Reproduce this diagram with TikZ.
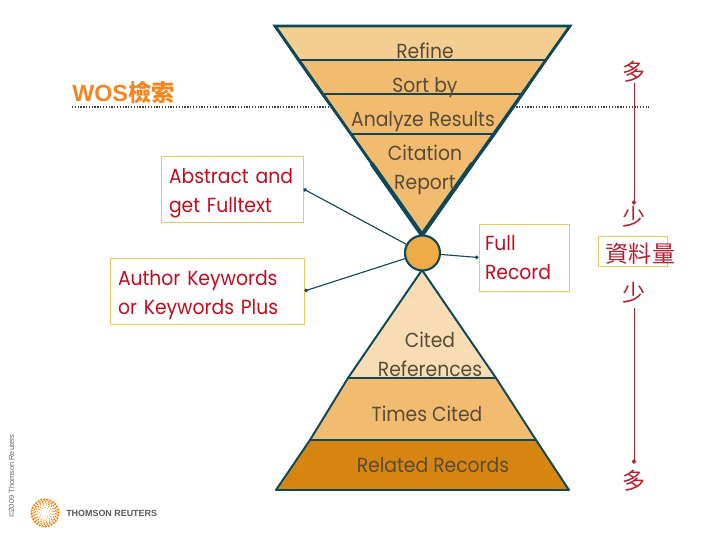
\documentclass[tikz,border=0pt]{standalone}
\usepackage{fontspec}
\setmainfont[FakeStretch=.92]{Poppins}
\setsansfont{Liberation Sans}
\newfontfamily\cjkfont{Noto Sans CJK TC}
\usetikzlibrary{arrows.meta}
\definecolor{edgeteal}{HTML}{0F4858}
\definecolor{bandlight}{HTML}{F4CE90}
\definecolor{bandmid}{HTML}{F2BC70}
\definecolor{bandpale}{HTML}{F7DCB4}
\definecolor{banddark}{HTML}{D68510}
\definecolor{hubfill}{HTML}{EFAB45}
\definecolor{boxedge}{HTML}{E6C860}
\definecolor{boxred}{HTML}{C00D1E}
\definecolor{inkbrown}{HTML}{594B38}
\definecolor{amountred}{HTML}{B5202E}
\definecolor{titleorange}{HTML}{F5851F}
\tikzset{
  band/.style={draw=edgeteal,line width=1.4pt,line join=round},
  rim/.style={draw=edgeteal,line width=2pt,line cap=round},
  bandlabel/.style={text=inkbrown,align=center,inner sep=0pt,font=\fontsize{14.5}{20.6}\selectfont},
  infobox/.style={draw=boxedge,line width=.7pt,fill=white,text=boxred,align=left,inner sep=0pt,minimum height=1.65cm,font=\fontsize{14.5}{20.6}\selectfont},
  boxlower/.style={execute at begin node=\rule{0pt}{17pt}},
  link/.style={draw=edgeteal,line width=.8pt,-{Circle[length=2.6pt]}},
  amount/.style={text=amountred,inner sep=1pt,font=\cjkfont\fontsize{16.4}{20}\selectfont},
  amountlink/.style={draw=amountred,line width=.7pt,-{Circle[length=3.2pt]}}
}
\begin{document}
\begin{tikzpicture}
\useasboundingbox (0,0) rectangle (18,13.5);
\draw[black!75,line width=.9pt,dash pattern=on .9pt off 1.1pt] (1.8,10.825) -- (16.225,10.825);
\node[anchor=west,inner sep=0pt,text=titleorange,font=\sffamily\bfseries\fontsize{16.6}{20}\selectfont] (wosTitle) at (1.8,11.2) {WOS{\cjkfont 檢索}};
\path[band,fill=bandlight] (6.875,12.85) -- (14.25,12.85) -- (13.65,12) -- (7.45,12) -- cycle;
\path[band,fill=bandmid] (7.45,12) -- (13.65,12) -- (13.075,11.15) -- (8.05,11.15) -- cycle;
\path[band,fill=bandmid] (8.05,11.15) -- (13.075,11.15) -- (12.375,10.15) -- (8.775,10.15) -- cycle;
\path[band,fill=bandmid] (8.775,10.15) -- (12.375,10.15) -- (10.55,7.625) -- cycle;
\draw[rim] (6.875,12.85) -- (10.55,7.625) -- (14.25,12.85) -- cycle;
\draw[rim,line width=3pt] (9.3,9.4) -- (10.55,7.625) -- (11.8,9.4);
\path[band,fill=bandpale] (10.55,6.75) -- (12.4,4.05) -- (8.7,4.05) -- cycle;
\path[band,fill=bandmid] (8.7,4.05) -- (12.4,4.05) -- (13.4,2.5) -- (7.75,2.5) -- cycle;
\path[band,fill=banddark] (7.75,2.5) -- (13.4,2.5) -- (14.225,1.25) -- (6.9,1.25) -- cycle;
\node[circle,draw=edgeteal,line width=1.5pt,fill=hubfill,minimum size=.875cm,inner sep=0pt] (hub) at (10.5625,7.175) {};
\node[bandlabel] (refine) at (10.625,12.22) {Refine};
\node[bandlabel] (sortBy) at (10.625,11.3) {Sort by};
\node[bandlabel] (analyze) at (10.575,10.45) {Analyze Results};
\node[bandlabel] (citation) at (10.625,9.25) {Citation\\Report};
\node[bandlabel] (cited) at (10.75,4.65) {Cited\\References};
\node[bandlabel] (timesCited) at (10.675,3.15) {Times Cited};
\node[bandlabel] (related) at (10.825,1.875) {Related Records};
\node[infobox,boxlower,minimum width=3.55cm,text width=3.15cm] (abstractBox) at (5.8,8.775) {Abstract and\\get Fulltext};
\node[infobox,boxlower,minimum width=4.85cm,text width=4.45cm] (keywordBox) at (5.175,6.225) {Author Keywords\\or Keywords Plus};
\node[infobox,minimum width=2.25cm,text width=1.95cm,minimum height=1.675cm] (fullBox) at (13.1,7.0625) {Full\\Record};
\draw[link] (hub) -- (abstractBox.east);
\draw[link] (hub) -- (keywordBox.east);
\draw[link] (hub) -- (fullBox.west);
\node[draw=boxedge,line width=.7pt,minimum width=1.725cm,minimum height=.75cm,inner sep=0pt] (dataBox) at (15.8125,7.225) {};
\node[amount] (dataLabel) at (16.0125,7.15) {資料量};
\node[amount] (manyTop) at (15.85,11.7) {多};
\node[amount] (fewTop) at (15.85,8.075) {少};
\node[amount] (fewBottom) at (15.85,6.175) {少};
\node[amount] (manyBottom) at (15.85,1.475) {多};
\draw[amountlink,shorten <=-1pt] (manyTop) -- (fewTop);
\draw[amountlink,shorten <=2pt,shorten >=3.5pt] (fewBottom) -- (manyBottom);
\node[rotate=90,text=black!60,inner sep=0pt,font=\sffamily\fontsize{5.3}{6}\selectfont] (copyright) at (.2875,1.6) {©2009 Thomson Reuters};
\foreach \r/\n/\s in {.13/12/.012,.18/16/.016,.23/20/.02,.28/24/.026,.335/28/.032}
  \foreach \i in {1,...,\n}
    \fill[orange!85!brown] (1.125,.675) ++(\i*360/\n+\r*200:\r) circle (\s);
\node[anchor=west,inner sep=0pt,text=black!65,font=\sffamily\bfseries\fontsize{6.35}{8}\selectfont] (logoText) at (1.65,.675) {THOMSON REUTERS};
\end{tikzpicture}
\end{document}
